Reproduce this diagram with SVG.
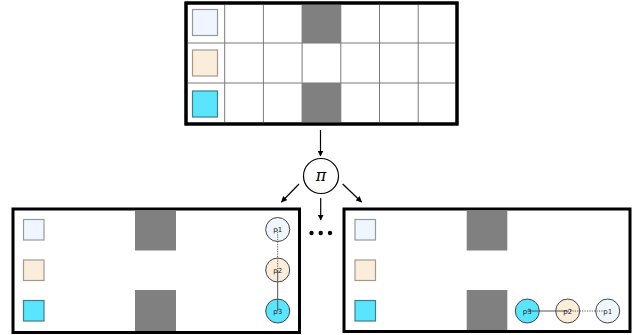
<svg xmlns="http://www.w3.org/2000/svg" width="639" height="335" viewBox="0 0 639 335">
<style>
.frame{fill:#fff;stroke:#000;stroke-width:3}
.grid{stroke:#7a7a7a;stroke-width:1;fill:none}
.wall{fill:#808080;stroke:none}
.sq{stroke-width:1.2}
.c1{fill:#eff6ff;stroke:#999}
.c2{fill:#faeedb;stroke:#a39a8e}
.c3{fill:#5ae5ff;stroke:#3f7f8a}
.agent{stroke:#444;stroke-width:1}
.lbl{font-family:"DejaVu Sans",sans-serif;font-size:7px;fill:#222;text-anchor:middle}
.arr{stroke:#000;stroke-width:1.2;fill:none;marker-end:url(#ah)}
</style>
<defs>
<marker id="ah" viewBox="0 0 10 10" refX="9" refY="5" markerWidth="6" markerHeight="6" orient="auto" markerUnits="userSpaceOnUse">
<path d="M0,0 L10,5 L0,10 z" fill="#000"/>
</marker>
</defs>
<rect width="639" height="335" fill="#fff"/>

<g id="top-grid">
<rect class="frame" x="186" y="3" width="271" height="121"/>
<rect class="wall" x="302.1" y="3" width="38.7" height="40"/>
<rect class="wall" x="302.1" y="83" width="38.7" height="41"/>
<path class="grid" d="M224.7,3V124M263.4,3V124M302.1,3V124M340.8,3V124M379.5,3V124M418.2,3V124M186,43H457M186,83H457"/>
<rect class="frame" x="186" y="3" width="271" height="121" fill="none" style="fill:none"/>
<rect class="sq c1" x="192.5" y="9.5" width="25" height="26"/>
<rect class="sq c2" x="192.5" y="50" width="25" height="26"/>
<rect class="sq c3" x="192.5" y="91" width="25" height="26"/>
</g>

<g id="policy">
<circle cx="321" cy="176" r="17.5" fill="#fff" stroke="#000" stroke-width="1.2"/>
<text x="321" y="181" font-family="'DejaVu Serif',serif" font-style="italic" font-size="16" text-anchor="middle">π</text>
</g>

<g id="connectors">
<path class="arr" d="M320.5,130V156"/>
<path class="arr" d="M299,184L281.5,202"/>
<path class="arr" d="M320.7,198V220"/>
<path class="arr" d="M342.7,184L361.5,202"/>
<circle cx="311.5" cy="233" r="2.2" fill="#000"/>
<circle cx="320.7" cy="233" r="2.2" fill="#000"/>
<circle cx="330" cy="233" r="2.2" fill="#000"/>
</g>

<g id="left-state">
<rect class="frame" x="13" y="209" width="286.5" height="123.5"/>
<rect class="wall" x="135" y="210.5" width="41" height="40"/>
<rect class="wall" x="135" y="290" width="41" height="41"/>
<rect class="sq c1" x="23.5" y="219.5" width="20.5" height="20.5"/>
<rect class="sq c2" x="23.5" y="260" width="20.5" height="20.5"/>
<rect class="sq c3" x="23.5" y="300.5" width="20.5" height="20.5"/>
<circle class="agent" cx="277.7" cy="229.5" r="12" fill="#eff6ff"/>
<circle class="agent" cx="277.7" cy="270" r="12" fill="#faeedb"/>
<circle class="agent" cx="277.7" cy="311" r="12" fill="#5ae5ff"/>
<path d="M277.7,229.5V270" stroke="#555" stroke-width="1" stroke-dasharray="1.2,1.2"/>
<path d="M277.7,270V311" stroke="#555" stroke-width="1"/>
<text class="lbl" x="277.7" y="232">p1</text>
<text class="lbl" x="277.7" y="272.5">p2</text>
<text class="lbl" x="277.7" y="313.5">p3</text>
</g>

<g id="right-state">
<rect class="frame" x="344" y="209" width="286" height="122.5"/>
<rect class="wall" x="466.7" y="210.5" width="40.6" height="40"/>
<rect class="wall" x="466.7" y="290" width="40.6" height="40"/>
<rect class="sq c1" x="355" y="219.5" width="20.5" height="20.5"/>
<rect class="sq c2" x="355" y="260" width="20.5" height="20.5"/>
<rect class="sq c3" x="355" y="300.5" width="20.5" height="20.5"/>
<circle class="agent" cx="527.3" cy="311" r="12" fill="#5ae5ff"/>
<circle class="agent" cx="567.7" cy="311" r="12" fill="#faeedb"/>
<circle class="agent" cx="607.7" cy="311" r="12" fill="#eff6ff"/>
<path d="M527.3,311H567.7" stroke="#555" stroke-width="1"/>
<path d="M567.7,311H604" stroke="#555" stroke-width="1" stroke-dasharray="1.2,1.2"/>
<text class="lbl" x="527.3" y="313.5">p3</text>
<text class="lbl" x="567.7" y="313.5">p2</text>
<text class="lbl" x="607.7" y="313.5">p1</text>
</g>
</svg>
